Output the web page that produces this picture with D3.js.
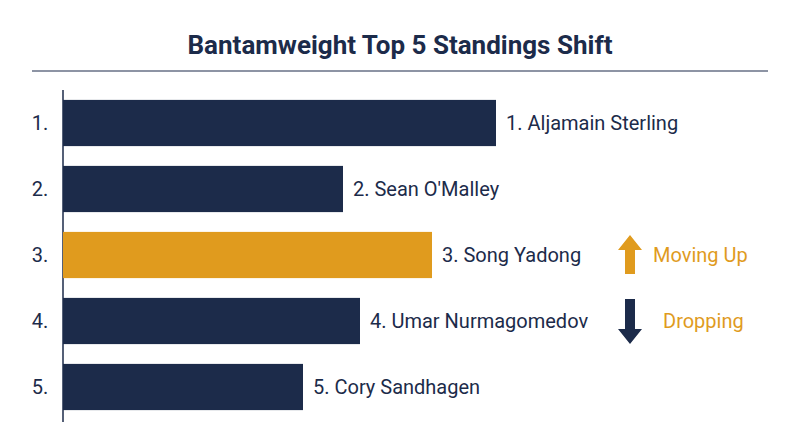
<!DOCTYPE html><html><head><meta charset="utf-8"><script src="https://cdn.jsdelivr.net/npm/d3@7"></script>
<style>body{margin:0;background:#fff}text{font-family:Roboto,"Noto Sans",sans-serif}</style></head><body><svg width="800" height="447"></svg>
<script>
const fighters=["Aljamain Sterling","Sean O'Malley","Song Yadong","Umar Nurmagomedov","Cory Sandhagen"];
const ranks=["1.","2.","3.","4.","5."];
const values=[86.6,56,73.8,59.4,48];
const highlight=[false,false,true,false,false];
const navy="#1c2b4a",gold="#e09b1e";
const svg=d3.select("svg");
svg.append("text").attr("x",400).attr("y",54).attr("text-anchor","middle").attr("font-size",26).attr("font-weight",700).attr("fill",navy).text("Bantamweight Top 5 Standings Shift");
svg.append("line").attr("x1",32).attr("x2",768).attr("y1",71).attr("y2",71).attr("stroke",navy).attr("stroke-width",1.2);
const x=d3.scaleLinear().domain([0,100]).range([63,563]);
const y=d3.scaleBand().domain(ranks).range([90,420]).paddingInner(0.3).paddingOuter(0.15);
svg.append("line").attr("x1",63).attr("x2",63).attr("y1",90).attr("y2",422).attr("stroke",navy).attr("stroke-width",1.5);
ranks.forEach((r,i)=>{
 const yc=y(r)+y.bandwidth()/2;
 svg.append("rect").attr("x",x(0)).attr("y",y(r)).attr("width",x(values[i])-x(0)).attr("height",y.bandwidth()).attr("fill",highlight[i]?gold:navy);
 svg.append("text").attr("x",40).attr("y",yc).attr("dy","0.35em").attr("text-anchor","middle").attr("font-size",20).attr("fill",navy).text(r);
 svg.append("text").attr("x",x(values[i])+10).attr("y",yc).attr("dy","0.35em").attr("font-size",20).attr("fill",navy).text(r+" "+fighters[i]);
});
const y3=y("3.")+y.bandwidth()/2, y4=y("4.")+y.bandwidth()/2;
svg.append("path").attr("d",`M630,${y3-20} L642,${y3-5} L635,${y3-5} L635,${y3+19} L625,${y3+19} L625,${y3-5} L618,${y3-5} Z`).attr("fill",gold);
svg.append("text").attr("x",653).attr("y",y3).attr("dy","0.35em").attr("font-size",20).attr("fill",gold).text("Moving Up");
svg.append("path").attr("d",`M630,${y4+23} L642,${y4+8} L635,${y4+8} L635,${y4-22} L625,${y4-22} L625,${y4+8} L618,${y4+8} Z`).attr("fill",navy);
svg.append("text").attr("x",663).attr("y",y4).attr("dy","0.35em").attr("font-size",20).attr("fill",gold).text("Dropping");
</script></body></html>
